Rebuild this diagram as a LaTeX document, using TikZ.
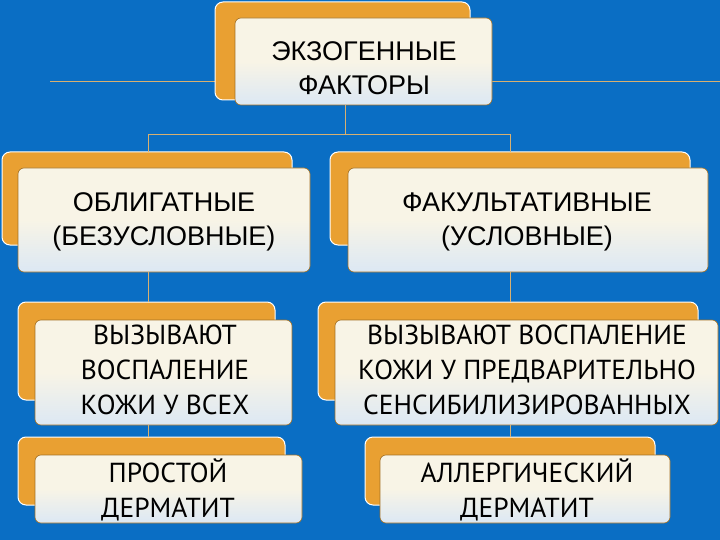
\documentclass[tikz,border=0pt]{standalone}
\usepackage{fontspec}
\setmainfont{Liberation Sans}
\newfontfamily\narrowf{PT Sans}
\definecolor{bg}{HTML}{0A6EC4}
\definecolor{org}{HTML}{E9A032}
\definecolor{crm}{HTML}{F8F4E6}
\definecolor{crmb}{HTML}{DCE8F4}
\definecolor{ln}{HTML}{D8B070}
\begin{document}
\begin{tikzpicture}[x=1pt,y=-1pt,
  back/.style={fill=org,draw=white,line width=1pt,rounded corners=8pt},
  front/.style={top color=crm,bottom color=crmb,middle color=crm,draw=org!70!black,line width=0.6pt,rounded corners=6pt},
  lbl/.style={align=center,font=\fontsize{27}{34}\selectfont,text=black},
  lbl2/.style={align=center,font=\narrowf\fontsize{27.5}{35}\selectfont,text=black},
  conn/.style={draw=ln,line width=1pt}]
\fill[bg] (0,0) rectangle (720,540);
\useasboundingbox (0,0) rectangle (720,540);
% decorative horizontal line
\draw[conn] (50,82) -- (215,82);
\draw[conn] (492,82) -- (720,82);
% boxes
\draw[back] (215,2) rectangle (470,100);
\draw[front] (235,18) rectangle (492,105);
\node[lbl] (top) at (364,68) {ЭКЗОГЕННЫЕ\\ФАКТОРЫ};
\draw[back] (2,152) rectangle (292,245);
\draw[front] (18,168) rectangle (310,272);
\node[lbl] (ob) at (164,222) {ОБЛИГАТНЫЕ\\(БЕЗУСЛОВНЫЕ)};
\draw[back] (330,152) rectangle (690,245);
\draw[front] (348,168) rectangle (708,272);
\node[lbl] (fa) at (527,222) {ФАКУЛЬТАТИВНЫЕ\\(УСЛОВНЫЕ)};
\draw[back] (18,302) rectangle (275,400);
\draw[front] (35,320) rectangle (292,425);
\node[lbl2] (v1) at (165,370) {ВЫЗЫВАЮТ\\ВОСПАЛЕНИЕ\\КОЖИ У ВСЕХ};
\draw[back] (318,302) rectangle (698,400);
\draw[front] (335,320) rectangle (718,425);
\node[lbl2] (v2) at (527,370) {ВЫЗЫВАЮТ ВОСПАЛЕНИЕ\\КОЖИ У ПРЕДВАРИТЕЛЬНО\\СЕНСИБИЛИЗИРОВАННЫХ};
\draw[back] (18,437) rectangle (285,505);
\draw[front] (35,455) rectangle (302,523);
\node[lbl2] (p) at (168,490) {ПРОСТОЙ\\ДЕРМАТИТ};
\draw[back] (365,437) rectangle (655,505);
\draw[front] (380,455) rectangle (670,523);
\node[lbl2] (a) at (527,490) {АЛЛЕРГИЧЕСКИЙ\\ДЕРМАТИТ};
% connectors
\coordinate (j) at (345,135);
\draw[conn] (345,105) -- (j) -- (148,135) -- (148,152);
\draw[conn] (j) -- (510,135) -- (510,152);
\draw[conn] (148,272) -- (148,302);
\draw[conn] (510,272) -- (510,302);
\draw[conn] (148,425) -- (148,437);
\draw[conn] (510,425) -- (510,437);
\end{tikzpicture}
\end{document}
